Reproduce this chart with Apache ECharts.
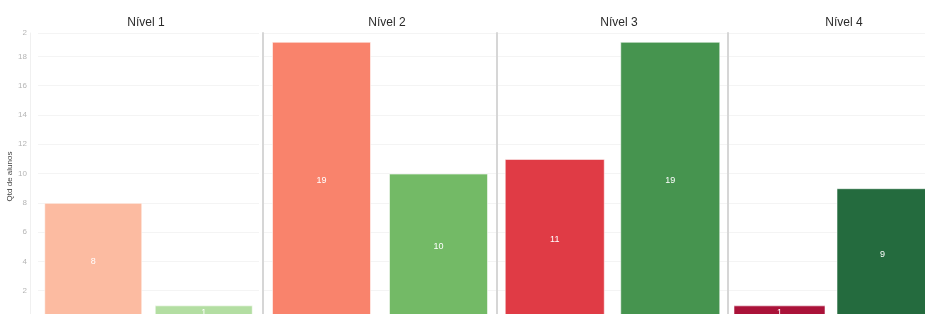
<!DOCTYPE html>
<html>
<head>
<meta charset="utf-8">
<script src="https://cdn.jsdelivr.net/npm/echarts@6/dist/echarts.min.js"></script>
<style>html,body{margin:0;padding:0;background:#fff;}#c{width:925px;height:314px;}</style>
</head>
<body>
<div id="c"></div>
<script>
// Data
var panelTitles = ['Nível 1', 'Nível 2', 'Nível 3', 'Nível 4'];
var barCategories = ['Grupo A', 'Grupo B'];
var firstValues = [8, 19, 11, 1];
var secondValues = [1, 10, 19, 9];
var yTicks = [0, 2, 4, 6, 8, 10, 12, 14, 16, 18];
var yAxisName = 'Qtd de alunos';

// Styles
var firstColors = ['#fcbba1', '#f9836c', '#e03b45', '#aa1239'];
var secondColors = ['#b3dea2', '#73ba66', '#46944f', '#246b3e'];
var gridLayout = [
  {left: 38, width: 221},
  {left: 263, width: 234},
  {left: 497, width: 231},
  {left: 728, width: 206}
];
var titleCenters = [141, 382, 614, 839];
var barWidths = [98, 99, 100, 92];

var option = {
  backgroundColor: '#fff',
  animation: false,
  title: [], grid: [], xAxis: [], yAxis: [], series: []
};

panelTitles.forEach(function (t, i) {
  option.title.push({
    text: t, left: titleCenters[i], top: 12, textAlign: 'center',
    textStyle: {fontFamily: 'Liberation Sans, Arial, sans-serif', fontSize: 12, fontWeight: 'normal', color: '#2a2a2a'}
  });
  option.grid.push({
    left: gridLayout[i].left, width: gridLayout[i].width, top: 33, height: 287,
    containLabel: false, outerBoundsMode: 'none'
  });
  option.xAxis.push({
    type: 'category', gridIndex: i, data: barCategories,
    axisLine: {show: false}, axisTick: {show: false}, axisLabel: {show: false}, splitLine: {show: false}
  });
  var y = {
    type: 'value', gridIndex: i, min: 0, max: 19.6, interval: 2,
    splitLine: {show: true, lineStyle: {color: '#f4f4f4', width: 1}},
    axisTick: {show: false}
  };
  if (i === 0) {
    y.offset = 8;
    y.axisLine = {show: true, lineStyle: {color: '#f0f0f0', width: 1}};
    y.axisLabel = {
      show: true, margin: 3, fontSize: 8, color: '#b5b5b5',
      fontFamily: 'Liberation Sans, Arial, sans-serif',
      formatter: function (v) { return yTicks.indexOf(v) >= 0 ? String(v) : '2'; }
    };
    y.name = yAxisName;
    y.nameLocation = 'middle';
    y.nameGap = 15;
    y.nameTextStyle = {fontSize: 8, color: '#444', fontFamily: 'Liberation Sans, Arial, sans-serif'};
  } else {
    y.axisLine = {show: true, lineStyle: {color: '#d6d6d6', width: 2}};
    y.axisLabel = {show: false};
  }
  option.yAxis.push(y);
  option.series.push({
    type: 'bar', xAxisIndex: i, yAxisIndex: i, barWidth: barWidths[i],
    data: [
      {value: firstValues[i], itemStyle: {color: firstColors[i]}},
      {value: secondValues[i], itemStyle: {color: secondColors[i]}}
    ],
    itemStyle: {borderColor: 'rgba(255,255,255,0.55)', borderWidth: 1},
    label: {show: true, position: 'inside', color: '#fff', fontSize: 9, fontFamily: 'Liberation Sans, Arial, sans-serif'}
  });
});

var chart = echarts.init(document.getElementById('c'), null, {renderer: 'canvas'});
chart.setOption(option);
</script>
</body>
</html>
